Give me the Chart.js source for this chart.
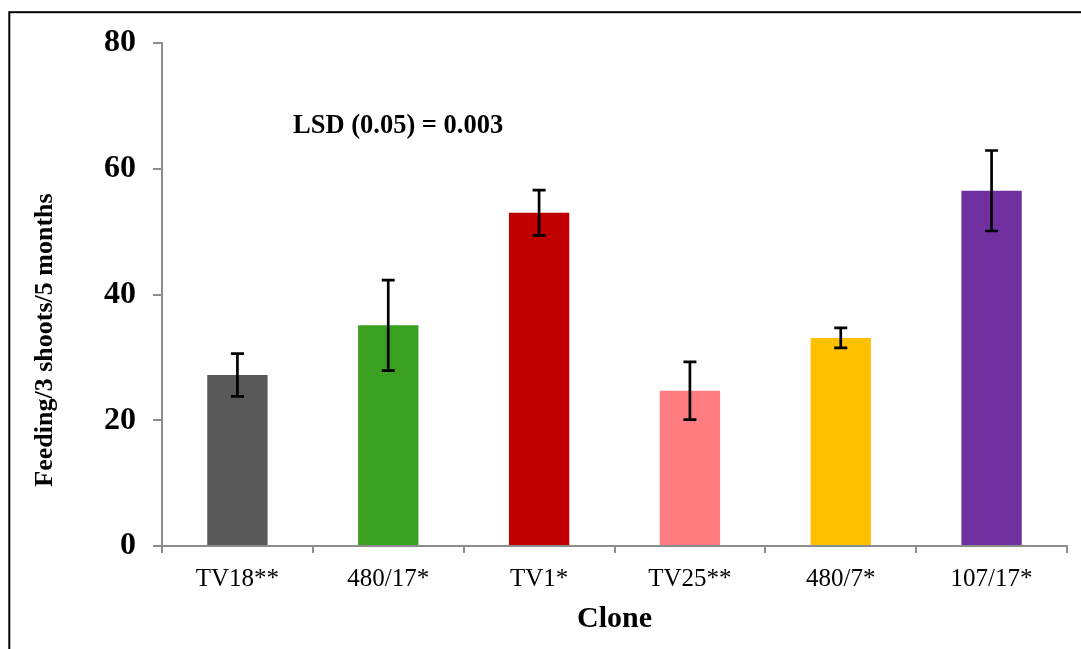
<!DOCTYPE html>
<html>
<head>
<meta charset="utf-8">
<script src="https://cdn.jsdelivr.net/npm/chart.js@4/dist/chart.umd.min.js"></script>
<style>
  html, body { margin: 0; padding: 0; background: #fff; }
  #wrap { width: 1081px; height: 649px; }
</style>
</head>
<body>
<div id="wrap"><canvas id="feedingChart" width="1081" height="649"></canvas></div>
<script>
// clones and mean feeding values
const clones = ['TV18**', '480/17*', 'TV1*', 'TV25**', '480/7*', '107/17*'];
const feeding = [27.2, 35.1, 53.0, 24.7, 33.1, 56.5];
const feedingErr = [3.4, 7.2, 3.6, 4.6, 1.6, 6.4];
const barColors = ['#595959', '#3aa021', '#c00000', '#ff7c80', '#ffc000', '#7030a0'];
const yTicks = [0, 20, 40, 60, 80];

const serif = "'Liberation Serif', 'Times New Roman', serif";
const axisGrey = '#8c8c8c';

// error bars, frame and the two free texts
const extrasPlugin = {
  id: 'extras',
  beforeDraw(chart) {
    const ctx = chart.ctx;
    ctx.save();
    ctx.strokeStyle = '#000';
    ctx.lineWidth = 2;
    ctx.strokeRect(9.3, 12.2, 1200, 800);
    ctx.restore();
  },
  afterDatasetsDraw(chart) {
    const ctx = chart.ctx;
    const yScale = chart.scales.y;
    const meta = chart.getDatasetMeta(0);
    ctx.save();
    ctx.strokeStyle = '#000';
    ctx.lineWidth = 2.7;
    meta.data.forEach((bar, i) => {
      const top = yScale.getPixelForValue(feeding[i] + feedingErr[i]);
      const bot = yScale.getPixelForValue(feeding[i] - feedingErr[i]);
      ctx.beginPath();
      ctx.moveTo(bar.x, top);
      ctx.lineTo(bar.x, bot);
      ctx.moveTo(bar.x - 6.5, top);
      ctx.lineTo(bar.x + 6.5, top);
      ctx.moveTo(bar.x - 6.5, bot);
      ctx.lineTo(bar.x + 6.5, bot);
      ctx.stroke();
    });
    ctx.restore();
  },
  afterDraw(chart) {
    const ctx = chart.ctx;
    ctx.save();
    ctx.fillStyle = '#000';
    ctx.font = 'bold 26.5px ' + serif;
    ctx.textBaseline = 'middle';
    ctx.textAlign = 'left';
    ctx.fillText('LSD (0.05) = 0.003', 293, 126);

    ctx.font = 'bold 26px ' + serif;
    ctx.translate(45, 340);
    ctx.rotate(-Math.PI / 2);
    ctx.textAlign = 'center';
    ctx.fillText('Feeding/3 shoots/5 months', 0, 0);
    ctx.restore();
  }
};

new Chart(document.getElementById('feedingChart'), {
  type: 'bar',
  data: {
    labels: clones,
    datasets: [{
      data: feeding,
      backgroundColor: barColors,
      barPercentage: 0.4,
      categoryPercentage: 1.0
    }]
  },
  options: {
    responsive: false,
    animation: false,
    layout: { padding: { top: 43, right: 14, bottom: 0, left: 0 } },
    plugins: {
      legend: { display: false },
      tooltip: { enabled: false }
    },
    scales: {
      x: {
        afterFit(scale) { scale.height = 103; },
        grid: {
          offset: true,
          drawOnChartArea: false,
          drawTicks: true,
          tickLength: 7,
          color: axisGrey,
          lineWidth: 2
        },
        border: { display: true, color: axisGrey, width: 2 },
        ticks: {
          color: '#000',
          font: { family: serif, size: 25 },
          padding: 11
        },
        title: {
          display: true,
          text: 'Clone',
          color: '#000',
          font: { family: serif, size: 30, weight: 'bold' },
          padding: { top: 0, bottom: 12 }
        }
      },
      y: {
        min: 0,
        max: 80,
        afterFit(scale) { scale.width = 162; },
        afterBuildTicks(scale) { scale.ticks = yTicks.map(v => ({ value: v })); },
        grid: {
          drawOnChartArea: false,
          drawTicks: true,
          tickLength: 9,
          color: axisGrey,
          lineWidth: 2
        },
        border: { display: true, color: axisGrey, width: 2 },
        ticks: {
          color: '#000',
          font: { family: serif, size: 32, weight: 'bold' },
          padding: 17
        },
        title: { display: false }
      }
    }
  },
  plugins: [extrasPlugin]
});
</script>
</body>
</html>
